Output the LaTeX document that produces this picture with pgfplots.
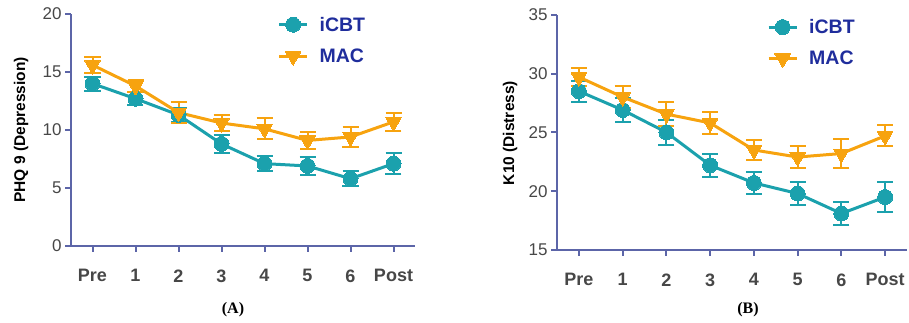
\documentclass[border=0pt]{standalone}
\usepackage{pgfplots}
\pgfplotsset{compat=1.18}
\usepackage{fontspec}
\setmainfont{Liberation Sans}
\newfontfamily\serifcap{Liberation Serif}
\definecolor{teal1}{HTML}{1BA1AD}
\definecolor{orange1}{HTML}{F7A30F}
\definecolor{axisblue}{HTML}{5C65A8}
\definecolor{legblue}{HTML}{1F2D9C}
\definecolor{tickgrey}{HTML}{474747}
\pgfplotsset{
  panel/.style={
    scale only axis,
    axis lines=left,
    axis line style={-, axisblue, line width=2pt},
    tick style={axisblue, line width=2pt},
    tick align=outside,
    major tick length=6pt,
    xmin=-0.5, xmax=7.5,
    xtick={0,1,2,3,4,5,6,7},
    xticklabels={Pre,1,2,3,4,5,6,Post},
    /pgf/number format/assume math mode=true,
    yticklabel style={font=\fontsize{17}{20}\selectfont, text=tickgrey},
    xticklabel style={font=\fontsize{18}{21}\selectfont\bfseries, text=tickgrey, yshift=-14pt},
    ylabel style={font=\fontsize{15.5}{18}\selectfont\bfseries, text=black},
    legend style={draw=none, fill=none, font=\fontsize{19.5}{22}\selectfont\bfseries, text=legblue, row sep=12pt, inner sep=0pt, nodes={inner sep=2pt}},
    legend cell align=left,
    legend image code/.code={\draw[mark repeat=2,mark phase=2,##1] plot coordinates {(0pt,0pt) (14pt,0pt) (28pt,0pt)}; \path (37pt,0pt);},
    every axis plot/.append style={line width=3pt},
    error bars/y dir=both,
    error bars/y explicit,
    error bars/error bar style={line width=2pt},
    error bars/error mark options={rotate=90, mark size=8pt, line width=2pt},
  },
  icbt/.style={teal1, mark=*, mark size=7.5pt, mark options={fill=teal1, draw=teal1, line width=0pt}},
  mac/.style={orange1, mark=triangle*, mark size=9pt, mark options={rotate=180, fill=orange1, draw=orange1, line width=0pt}},
}
\begin{document}
\begin{tikzpicture}[x=1pt,y=1pt]
\useasboundingbox (0,0) rectangle (909,323);
% Panel A
\begin{axis}[panel, at={(71pt,77pt)}, anchor=south west, width=344pt, height=232pt,
  ymin=0, ymax=20, ytick={0,5,10,15,20},
  ylabel={PHQ 9 (Depression)},
  ylabel style={at={(axis description cs:-0.145,0.5)}, anchor=center},
  legend style={at={(axis description cs:0.60,0.997)}, anchor=north west}]
\addplot[icbt] coordinates {
 (0,14.0) +- (0,0.6)
 (1,12.7) +- (0,0.55)
 (2,11.3) +- (0,0.6)
 (3,8.8) +- (0,0.75)
 (4,7.1) +- (0,0.65)
 (5,6.9) +- (0,0.75)
 (6,5.8) +- (0,0.65)
 (7,7.1) +- (0,0.9)
};
\addlegendentry{iCBT}
\addplot[mac] coordinates {
 (0,15.6) +- (0,0.65)
 (1,13.8) +- (0,0.55)
 (2,11.5) +- (0,0.9)
 (3,10.6) +- (0,0.7)
 (4,10.1) +- (0,0.9)
 (5,9.1) +- (0,0.7)
 (6,9.4) +- (0,0.9)
 (7,10.7) +- (0,0.8)
};
\addlegendentry{MAC}
\end{axis}
% Panel B
\begin{axis}[panel, at={(557pt,73pt)}, anchor=south west, width=350pt, height=235.3pt,
  ymin=15, ymax=35, ytick={15,20,25,30,35},
  ylabel={K10 (Distress)},
  ylabel style={at={(axis description cs:-0.134,0.497)}, anchor=center},
  legend style={at={(axis description cs:0.60,0.99)}, anchor=north west}]
\addplot[icbt] coordinates {
 (0,28.5) +- (0,0.9)
 (1,26.9) +- (0,1.0)
 (2,25.0) +- (0,1.05)
 (3,22.2) +- (0,1.0)
 (4,20.7) +- (0,0.9)
 (5,19.8) +- (0,1.0)
 (6,18.1) +- (0,1.0)
 (7,19.5) +- (0,1.25)
};
\addlegendentry{iCBT}
\addplot[mac] coordinates {
 (0,29.7) +- (0,0.8)
 (1,28.0) +- (0,0.9)
 (2,26.55) +- (0,1.0)
 (3,25.8) +- (0,0.95)
 (4,23.5) +- (0,0.85)
 (5,22.9) +- (0,0.95)
 (6,23.2) +- (0,1.2)
 (7,24.7) +- (0,0.9)
};
\addlegendentry{MAC}
\end{axis}
\node[font=\fontsize{16}{18}\selectfont\serifcap\bfseries] at (233,13) {(A)};
\node[font=\fontsize{16}{18}\selectfont\serifcap\bfseries] at (748,13) {(B)};
\end{tikzpicture}
\end{document}
